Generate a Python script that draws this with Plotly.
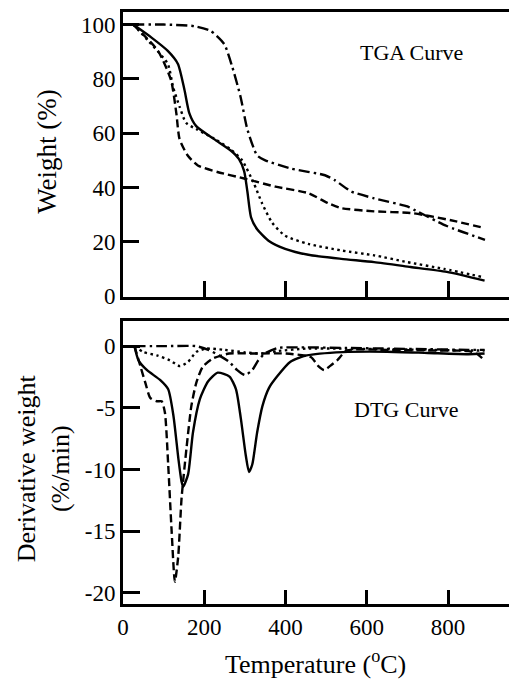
import plotly.graph_objects as go

# ---------------- TGA data (Weight %) ----------------
tga_solid_x = [25, 70, 110, 135, 151, 163, 180, 224, 265, 285, 298, 306, 315, 330, 358, 399, 456, 537, 618, 708, 797, 890]
tga_solid_y = [100, 95.2, 90.3, 85.5, 76, 67.4, 62.6, 57.8, 53.6, 50.5, 46, 38.5, 29, 24.6, 20.4, 17.4, 15.2, 13.7, 12.5, 10.7, 8.9, 5.7]

tga_dot_x = [25, 62, 110, 123, 139, 155, 180, 224, 265, 293, 322, 342, 367, 399, 456, 537, 618, 700, 790, 885]
tga_dot_y = [100, 94, 85.5, 77, 69.8, 63.8, 61.5, 58, 54, 50, 41.5, 34.2, 27, 22.2, 19.2, 16.8, 15, 12.5, 10, 7]

tga_dash_x = [25, 86, 118, 131, 139, 159, 184, 232, 298, 375, 456, 505, 537, 618, 708, 757, 820, 885]
tga_dash_y = [100, 90.3, 79.5, 67.4, 57.8, 51.8, 48.1, 45.7, 43.3, 40.3, 37.9, 34.2, 32.4, 31.2, 30.6, 29.4, 27.5, 25.2]

tga_dashdot_x = [25, 100, 176, 216, 249, 269, 289, 306, 330, 350, 415, 497, 521, 562, 618, 700, 720, 797, 891]
tga_dashdot_y = [100, 100, 99.4, 97.6, 92.8, 84.3, 73.5, 61.4, 51.8, 50, 46.9, 44.5, 42.7, 38.5, 36, 33, 31.5, 25.8, 20.7]

# ---------------- DTG data (%/min) ----------------
dtg_solid_x = [28, 38, 59, 91, 111, 124, 136, 144, 148, 160, 172, 189, 209, 233, 262, 278, 290, 302, 310, 318, 330, 343, 359, 379, 412, 452, 541, 650, 750, 850, 890]
dtg_solid_y = [0, -1.15, -1.95, -2.74, -3.5, -5.66, -9.1, -11, -11.4, -10.4, -7, -4.3, -2.87, -2.15, -2.47, -3.5, -5.9, -8.85, -10.2, -9.6, -7, -4.86, -3.4, -2.47, -1.27, -0.75, -0.48, -0.45, -0.55, -0.65, -0.6]

dtg_dash_x = [28, 43, 55, 67, 83, 95, 103, 111, 119.5, 127.5, 135.6, 144, 156, 168, 180, 196, 221, 261, 320, 400, 463, 480, 495, 510, 527, 551, 650, 750, 850, 870, 885]
dtg_dash_y = [0, -1.67, -3, -4.2, -4.47, -4.47, -5.4, -9.6, -15, -19.1, -17.1, -12.3, -8.3, -4.86, -3, -1.67, -1.0, -0.6, -0.6, -0.6, -0.9, -1.6, -1.94, -1.6, -1.15, -0.35, -0.3, -0.35, -0.4, -0.6, -1.0]

dtg_dot_x = [28, 50, 83, 115, 140, 160, 180, 204, 250, 300, 340, 380, 450, 550, 650, 750, 850, 890]
dtg_dot_y = [0, -0.48, -0.75, -1.15, -1.62, -1.27, -0.48, -0.2, -0.3, -0.5, -0.6, -0.4, -0.2, -0.2, -0.25, -0.3, -0.35, -0.35]

dtg_dashdot_x = [28, 100, 180, 210, 236, 261, 281, 300, 318, 333, 349, 380, 450, 550, 650, 750, 850, 890]
dtg_dashdot_y = [0, 0, 0, -0.3, -0.75, -1.27, -1.94, -2.34, -1.94, -1.15, -0.6, -0.15, -0.1, -0.15, -0.2, -0.25, -0.3, -0.3]

x_ticks = [0, 200, 400, 600, 800]
x_tick_text = ["0", "200", "400", "600", "800"]
tga_ticks = [0, 20, 40, 60, 80, 100]
tga_tick_text = ["0", "20", "40", "60", "80", "100"]
dtg_ticks = [0, -5, -10, -15, -20]
dtg_tick_text = ["0", "-5", "-10", "-15", "-20"]

W, H = 509, 688
FONT = "Liberation Serif"
LW = 2.4
styles = {
    "solid": "solid",
    "dot": "2.5px,3.5px",
    "dash": "8px,4px",
    "dashdot": "11px,4px,2.5px,4px",
}

fig = go.Figure()

def add(x, y, dash, xa, ya):
    fig.add_trace(go.Scatter(x=x, y=y, mode="lines", xaxis=xa, yaxis=ya,
                             line=dict(color="black", width=LW, dash=dash, shape="spline", smoothing=0.6),
                             showlegend=False, hoverinfo="skip"))

add(tga_solid_x, tga_solid_y, styles["solid"], "x", "y")
add(tga_dot_x, tga_dot_y, styles["dot"], "x", "y")
add(tga_dash_x, tga_dash_y, styles["dash"], "x", "y")
add(tga_dashdot_x, tga_dashdot_y, styles["dashdot"], "x", "y")

add(dtg_solid_x, dtg_solid_y, styles["solid"], "x2", "y2")
add(dtg_dot_x, dtg_dot_y, styles["dot"], "x2", "y2")
add(dtg_dash_x, dtg_dash_y, styles["dash"], "x2", "y2")
add(dtg_dashdot_x, dtg_dashdot_y, styles["dashdot"], "x2", "y2")

x0 = 118.5
xmax = (W - x0) / 0.411
xdom = [x0 / W, 1.0]

def py(p):
    return 1 - p / H

top_dom = [py(302), py(12)]
bot_dom = [py(615), py(326.5)]

tga_scale = (301.3 - 25) / 100.0
tga_range = [-(302 - 301.3) / tga_scale, (301.3 - 12) / tga_scale]
dtg_scale = (603.3 - 352.3) / 20.0
dtg_range = [-20 - (615 - 603.3) / dtg_scale, (352.3 - 326.5) / dtg_scale]

axis_common = dict(showline=True, linecolor="black", linewidth=3, ticks="inside",
                   tickcolor="black", tickwidth=3, showgrid=False, zeroline=False,
                   tickfont=dict(family=FONT, size=23, color="black"))

fig.update_layout(
    width=W, height=H, margin=dict(l=0, r=0, t=0, b=0),
    paper_bgcolor="white", plot_bgcolor="white",
    xaxis=dict(domain=xdom, anchor="y", range=[0, xmax], tickvals=x_ticks, ticktext=x_tick_text,
               showticklabels=False, ticklen=16, mirror=True, **axis_common),
    yaxis=dict(domain=top_dom, anchor="x", range=tga_range, tickvals=tga_ticks, ticktext=tga_tick_text,
               ticklen=16, **axis_common),
    xaxis2=dict(domain=xdom, anchor="y2", range=[0, xmax], tickvals=x_ticks, ticktext=x_tick_text,
                ticklen=14, mirror=True, **axis_common),
    yaxis2=dict(domain=bot_dom, anchor="x2", range=dtg_range, tickvals=dtg_ticks, ticktext=dtg_tick_text,
                ticklen=17, **axis_common),
)

def ann(text, xp, yp, size, angle=0):
    fig.add_annotation(text=text, xref="paper", yref="paper", x=xp / W, y=py(yp),
                       xanchor="center", yanchor="middle", showarrow=False, textangle=angle,
                       font=dict(family=FONT, size=size, color="black"))

ann("TGA Curve", 410, 53, 22)
ann("DTG Curve", 405, 417, 22)
ann("Weight (%)", 42, 154, 27, -90)
ann("Derivative weight<br>(%/min)", 38, 477, 26, -90)
ann("Temperature (<sup>o</sup>C)", 313, 674, 26)

fig.write_html("out.html")
